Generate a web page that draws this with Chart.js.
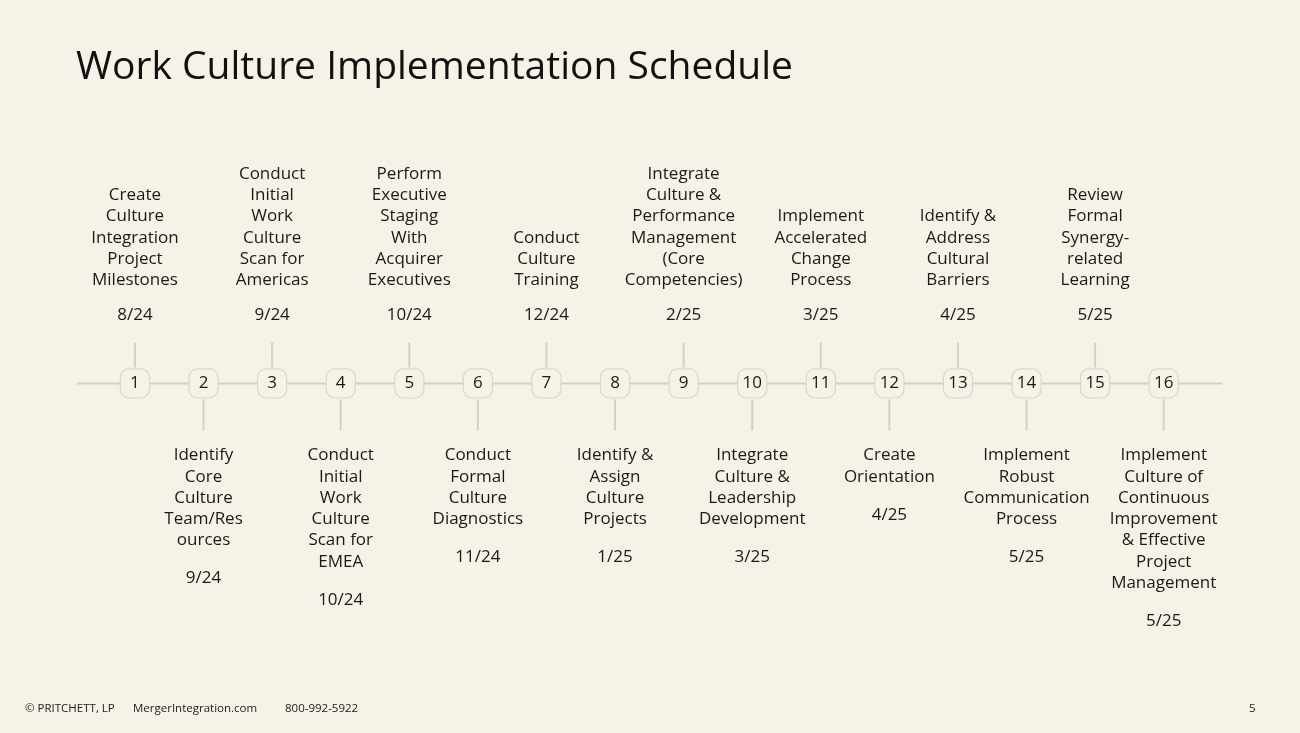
<!DOCTYPE html>
<html><head><meta charset="utf-8">
<script src="https://cdn.jsdelivr.net/npm/chart.js@4"></script>
<style>html,body{margin:0;padding:0;background:#f7f2e7;}#wrap{position:relative;width:1300px;height:733px;}</style>
</head><body><div id="wrap"><canvas id="c" width="1300" height="733"></canvas></div>
<script>
const steps = [1,2,3,4,5,6,7,8,9,10,11,12,13,14,15,16];
const tasks = [
 ["Create","Culture","Integration","Project","Milestones"],
 ["Identify","Core","Culture","Team/Res","ources"],
 ["Conduct","Initial","Work","Culture","Scan for","Americas"],
 ["Conduct","Initial","Work","Culture","Scan for","EMEA"],
 ["Perform","Executive","Staging","With","Acquirer","Executives"],
 ["Conduct","Formal","Culture","Diagnostics"],
 ["Conduct","Culture","Training"],
 ["Identify &","Assign","Culture","Projects"],
 ["Integrate","Culture &","Performance","Management","(Core","Competencies)"],
 ["Integrate","Culture &","Leadership","Development"],
 ["Implement","Accelerated","Change","Process"],
 ["Create","Orientation"],
 ["Identify &","Address","Cultural","Barriers"],
 ["Implement","Robust","Communication","Process"],
 ["Review","Formal","Synergy-","related","Learning"],
 ["Implement","Culture of","Continuous","Improvement","& Effective","Project","Management"]
];
const dates = ["8/24","9/24","9/24","10/24","10/24","11/24","12/24","1/25","2/25","3/25","3/25","4/25","4/25","5/25","5/25","5/25"];
const FONT = '"Open Sans", Lato, sans-serif';
const BG = '#f7f2e7';
const plug = {
 id:'timeline',
 beforeDatasetsDraw(chart){
  const ctx=chart.ctx, xs=chart.scales.x, ys=chart.scales.y;
  const y0=ys.getPixelForValue(0);
  ctx.save();
  ctx.strokeStyle='#d6d0c0'; ctx.lineWidth=2;
  ctx.beginPath(); ctx.moveTo(xs.left,y0); ctx.lineTo(xs.right,y0); ctx.stroke();
  steps.forEach((s,i)=>{
   const x=xs.getPixelForValue(s); const up=(s%2===1);
   ctx.beginPath();
   if(up){ctx.moveTo(x,y0-41);ctx.lineTo(x,y0-16);} else {ctx.moveTo(x,y0+16);ctx.lineTo(x,y0+47);}
   ctx.stroke();
  });
  ctx.restore();
 },
 afterDatasetsDraw(chart){
  const ctx=chart.ctx, xs=chart.scales.x, ys=chart.scales.y;
  const y0=ys.getPixelForValue(0);
  ctx.save();
  ctx.fillStyle='#1a1a1a'; ctx.textAlign='center'; ctx.textBaseline='middle';
  const lh=21.3;
  steps.forEach((s,i)=>{
   const x=xs.getPixelForValue(s);
   ctx.font='17px '+FONT;
   ctx.fillText(String(s),x,y0);
   const lines=tasks[i];
   if(s%2===1){
    const dy=y0-68;
    ctx.fillText(dates[i],x,dy);
    lines.slice().reverse().forEach((t,k)=>ctx.fillText(t,x,dy-35-k*lh));
   } else {
    let ty=y0+72;
    lines.forEach((t,k)=>ctx.fillText(t,x,ty+k*lh));
    ctx.fillText(dates[i],x,ty+(lines.length-1)*lh+38);
   }
  });
  ctx.textAlign='left'; ctx.font='39px '+FONT; ctx.fillStyle='#111';
  ctx.fillText('Work Culture Implementation Schedule',76,68);
  ctx.font='11.5px '+FONT; ctx.fillStyle='#222';
  ctx.fillText('© PRITCHETT, LP',25,709);
  ctx.fillText('MergerIntegration.com',133,709);
  ctx.fillText('800-992-5922',285,709);
  ctx.fillText('5',1249,709);
  ctx.restore();
 }
};
new Chart(document.getElementById('c'),{
 type:'scatter',
 data:{datasets:[{data:steps.map(s=>({x:s,y:0})),pointStyle:'rectRounded',pointRadius:17,pointHoverRadius:17,
   backgroundColor:BG,borderColor:'#ddd6c6',borderWidth:1.2}]},
 options:{responsive:false,animation:false,events:[],
  layout:{padding:{left:77,right:78,top:52,bottom:0}},
  plugins:{legend:{display:false},tooltip:{enabled:false}},
  scales:{x:{type:'linear',min:0.155,max:16.85,display:false},
          y:{min:-1,max:1,display:false}}},
 plugins:[{id:'bg',beforeDraw(c){c.ctx.save();c.ctx.fillStyle=BG;c.ctx.fillRect(0,0,c.width,c.height);c.ctx.restore();}},plug]
});
</script></body></html>
